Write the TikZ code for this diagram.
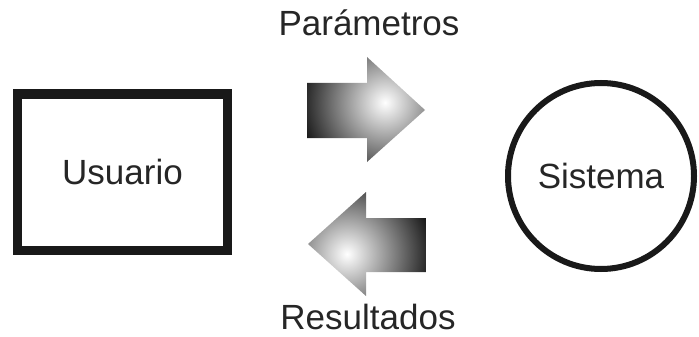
\documentclass[tikz,border=0pt]{standalone}
\usepackage{fontspec}
\setmainfont{Liberation Sans}

\begin{document}
\begin{tikzpicture}[
    x=1pt, y=-1pt,
    every node/.style={font=\fontsize{35}{42}\selectfont, text=black!85},
    box/.style={rectangle, draw=black!90, line width=9pt,
                minimum width=210pt, minimum height=156pt},
    sys/.style={circle, draw=black!90, line width=6pt,
                minimum size=186pt, inner sep=0pt},
    lbl/.style={anchor=base, inner sep=0pt},
    glow/.style={path picture={\shade[inner color=white, outer color=black]
        (path picture bounding box.center) ++(#1) circle (95pt);}},
  ]
  \useasboundingbox (0,0) rectangle (699,337);

  \node[box] (usuario) at (122.5,172) {Usuario};
  \node[sys] (sistema) at (601,176) {Sistema};

  % block arrows between the two
  \path[glow={19,-7}] (307,83) -- (367,83) -- (367,57) -- (425,110)
    -- (367,162) -- (367,138) -- (307,138) -- cycle;
  \path[glow={-20,10}] (426,218) -- (366,218) -- (366,192) -- (308,244)
    -- (366,296) -- (366,272) -- (426,272) -- cycle;

  \node[lbl] (param) at (369,36) {Parámetros};
  \node[lbl] (result) at (368,329) {Resultados};
\end{tikzpicture}
\end{document}
